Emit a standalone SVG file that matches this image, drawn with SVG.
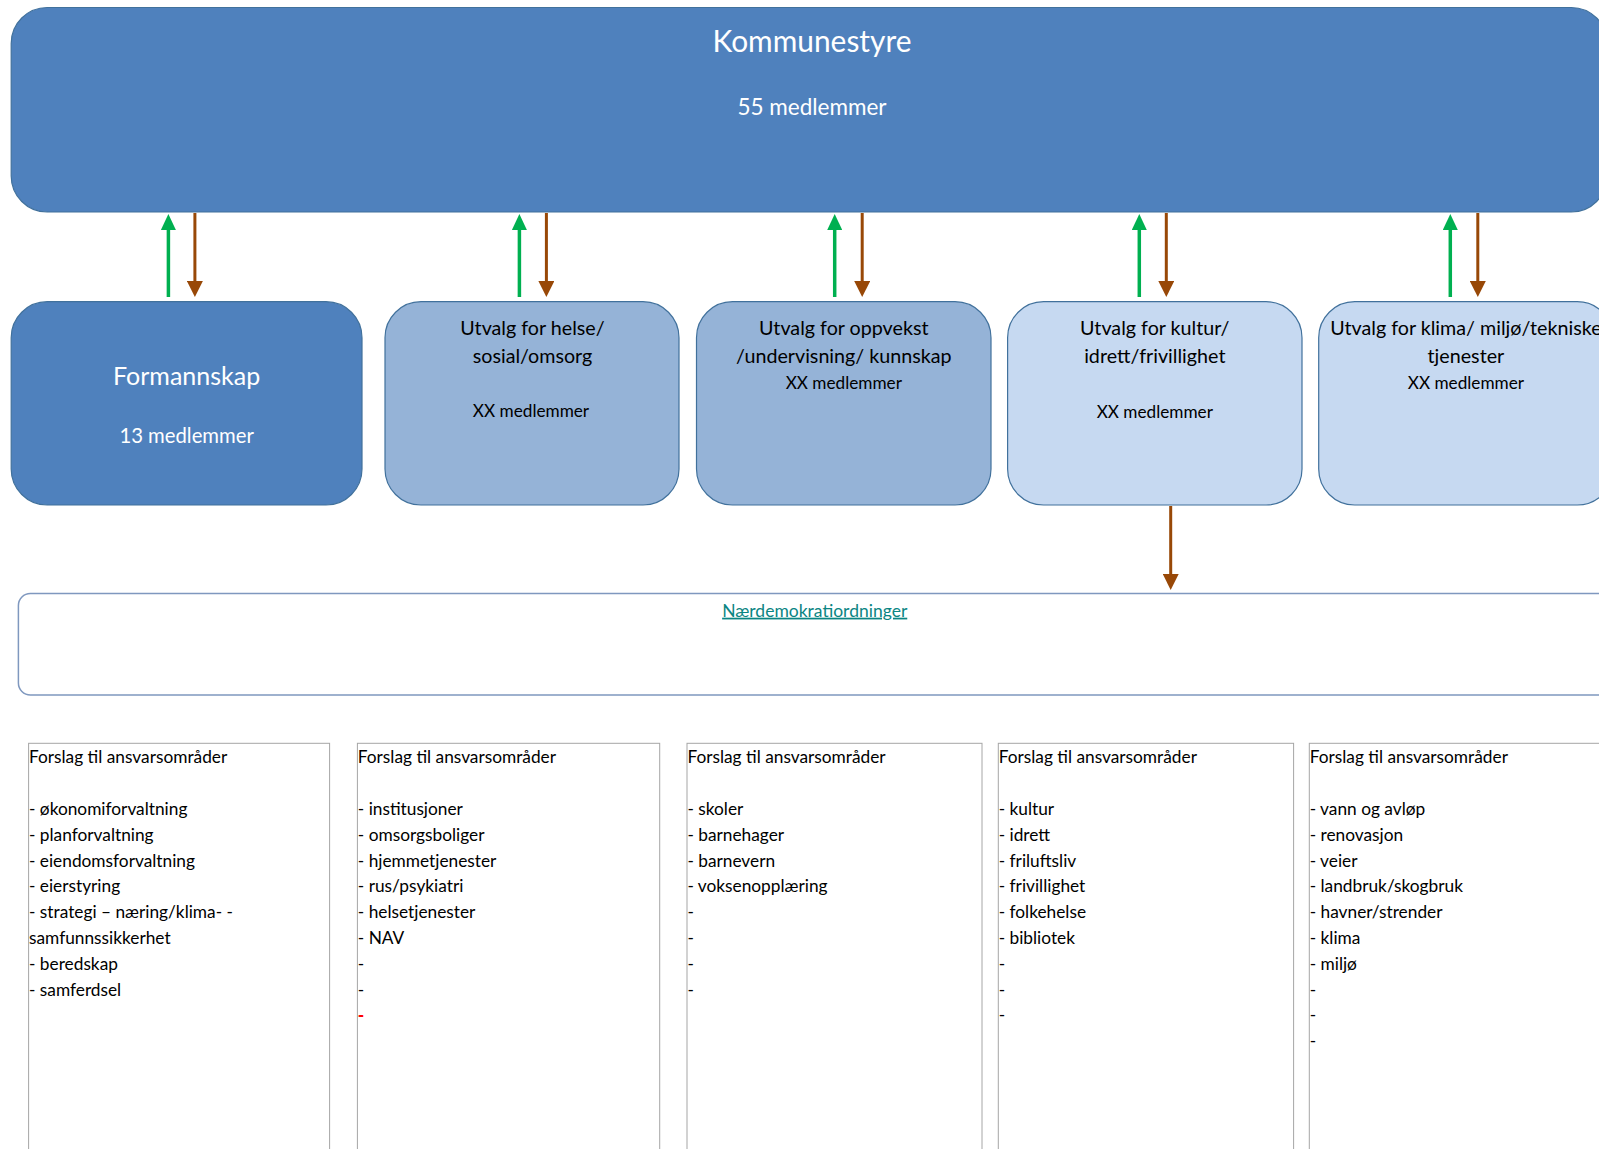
<svg xmlns="http://www.w3.org/2000/svg" width="1599" height="1149" viewBox="0 0 1599 1149">
<style>
text{font-family:Lato,"Liberation Sans",sans-serif;}
.box1{fill:#4F81BD;stroke:#41719C;stroke-width:1.2;}
.box2{fill:#95B3D7;stroke:#41719C;stroke-width:1.2;}
.box3{fill:#C6D9F1;stroke:#41719C;stroke-width:1.2;}
.wt{fill:#FFFFFF;text-anchor:middle;}
.bt{fill:#000000;text-anchor:middle;}
.t1{font-size:19.7px;}
.t2{font-size:17.2px;}
.list{fill:#000000;font-size:17.3px;}
.col{fill:none;stroke:#A6A6A6;stroke-width:1;}
.up{stroke:#00B050;stroke-width:3.5;fill:none;}
.down{stroke:#984807;stroke-width:3;fill:none;}
</style>
<defs>
<marker id="ahG" markerUnits="userSpaceOnUse" viewBox="0 0 16 15" refX="0" refY="7.5" markerWidth="16" markerHeight="15" orient="auto"><path d="M0,0 L16,7.5 L0,15 z" fill="#00B050"/></marker>
<marker id="ahB" markerUnits="userSpaceOnUse" viewBox="0 0 16 16" refX="0" refY="8" markerWidth="16" markerHeight="16" orient="auto"><path d="M0,0 L16,8 L0,16 z" fill="#984807"/></marker>
</defs>

<g id="kommunestyre">
<rect class="box1" x="11.2" y="7.5" width="1596" height="204.5" rx="36" ry="36"/>
<text class="wt" x="812" y="51.7" font-size="29.9">Kommunestyre</text>
<text class="wt" x="812" y="115" font-size="22.5">55 medlemmer</text>
</g>

<g id="formannskap">
<rect class="box1" x="11.2" y="301.7" width="350.8" height="203.3" rx="36" ry="36"/>
<text class="wt" x="186.6" y="385" font-size="25">Formannskap</text>
<text class="wt" x="186.6" y="443.3" font-size="20.3">13 medlemmer</text>
</g>

<g id="utvalg-helse">
<rect class="box2" x="385" y="301.7" width="294" height="203.3" rx="36" ry="36"/>
<text class="bt t1" x="532.5" y="335">Utvalg for helse/</text>
<text class="bt t1" x="532.5" y="363">sosial/omsorg</text>
<text class="bt t2" x="531" y="417.3">XX medlemmer</text>
</g>

<g id="utvalg-oppvekst">
<rect class="box2" x="696.5" y="301.7" width="294.5" height="203.3" rx="36" ry="36"/>
<text class="bt t1" x="843.8" y="335">Utvalg for oppvekst</text>
<text class="bt t1" x="843.8" y="363">/undervisning/ kunnskap</text>
<text class="bt t2" x="843.8" y="389.3">XX medlemmer</text>
</g>

<g id="utvalg-kultur">
<rect class="box3" x="1007.6" y="301.7" width="294.4" height="203.3" rx="36" ry="36"/>
<text class="bt t1" x="1154.8" y="335">Utvalg for kultur/</text>
<text class="bt t1" x="1154.8" y="363">idrett/frivillighet</text>
<text class="bt t2" x="1154.8" y="418">XX medlemmer</text>
</g>

<g id="utvalg-klima">
<rect class="box3" x="1318.7" y="301.7" width="294.5" height="203.3" rx="36" ry="36"/>
<text class="bt t1" x="1465.9" y="335">Utvalg for klima/ miljø/tekniske</text>
<text class="bt t1" x="1465.9" y="363">tjenester</text>
<text class="bt t2" x="1465.9" y="389.3">XX medlemmer</text>
</g>

<g id="naerdemokrati">
<rect x="18.4" y="593.5" width="1600" height="101.5" rx="12" ry="12" fill="#FFFFFF" stroke="#7F98BF" stroke-width="1.5"/>
<text x="814.7" y="616.7" font-size="17.5" fill="#0B8583" text-anchor="middle" text-decoration="underline">Nærdemokratiordninger</text>
</g>

<g id="ansvar-formannskap">
<rect class="col" x="28.6" y="743.3" width="301" height="420"/>
<text class="list" x="29" y="763">Forslag til ansvarsområder</text>
<text class="list" x="29" y="815">- økonomiforvaltning</text>
<text class="list" x="29" y="840.8">- planforvaltning</text>
<text class="list" x="29" y="866.6">- eiendomsforvaltning</text>
<text class="list" x="29" y="892.4">- eierstyring</text>
<text class="list" x="29" y="918.2">- strategi – næring/klima- -</text>
<text class="list" x="29" y="944">samfunnssikkerhet</text>
<text class="list" x="29" y="969.8">- beredskap</text>
<text class="list" x="29" y="995.6">- samferdsel</text>
</g>

<g id="ansvar-helse">
<rect class="col" x="357.4" y="743.3" width="302.3" height="420"/>
<text class="list" x="357.8" y="763">Forslag til ansvarsområder</text>
<text class="list" x="357.8" y="815">- institusjoner</text>
<text class="list" x="357.8" y="840.8">- omsorgsboliger</text>
<text class="list" x="357.8" y="866.6">- hjemmetjenester</text>
<text class="list" x="357.8" y="892.4">- rus/psykiatri</text>
<text class="list" x="357.8" y="918.2">- helsetjenester</text>
<text class="list" x="357.8" y="944">- NAV</text>
<text class="list" x="357.8" y="969.8">-</text>
<text class="list" x="357.8" y="995.6">-</text>
<text class="list" x="357.8" y="1021.4" style="fill:#FF0000;font-weight:900">-</text>
</g>

<g id="ansvar-oppvekst">
<rect class="col" x="687" y="743.3" width="295" height="420"/>
<text class="list" x="687.4" y="763">Forslag til ansvarsområder</text>
<text class="list" x="687.4" y="815">- skoler</text>
<text class="list" x="687.4" y="840.8">- barnehager</text>
<text class="list" x="687.4" y="866.6">- barnevern</text>
<text class="list" x="687.4" y="892.4">- voksenopplæring</text>
<text class="list" x="687.4" y="918.2">-</text>
<text class="list" x="687.4" y="944">-</text>
<text class="list" x="687.4" y="969.8">-</text>
<text class="list" x="687.4" y="995.6">-</text>
</g>

<g id="ansvar-kultur">
<rect class="col" x="998.3" y="743.3" width="295.3" height="420"/>
<text class="list" x="998.7" y="763">Forslag til ansvarsområder</text>
<text class="list" x="998.7" y="815">- kultur</text>
<text class="list" x="998.7" y="840.8">- idrett</text>
<text class="list" x="998.7" y="866.6">- friluftsliv</text>
<text class="list" x="998.7" y="892.4">- frivillighet</text>
<text class="list" x="998.7" y="918.2">- folkehelse</text>
<text class="list" x="998.7" y="944">- bibliotek</text>
<text class="list" x="998.7" y="969.8">-</text>
<text class="list" x="998.7" y="995.6">-</text>
<text class="list" x="998.7" y="1021.4">-</text>
</g>

<g id="ansvar-klima">
<rect class="col" x="1309.3" y="743.3" width="320" height="420"/>
<text class="list" x="1309.7" y="763">Forslag til ansvarsområder</text>
<text class="list" x="1309.7" y="815">- vann og avløp</text>
<text class="list" x="1309.7" y="840.8">- renovasjon</text>
<text class="list" x="1309.7" y="866.6">- veier</text>
<text class="list" x="1309.7" y="892.4">- landbruk/skogbruk</text>
<text class="list" x="1309.7" y="918.2">- havner/strender</text>
<text class="list" x="1309.7" y="944">- klima</text>
<text class="list" x="1309.7" y="969.8">- miljø</text>
<text class="list" x="1309.7" y="995.6">-</text>
<text class="list" x="1309.7" y="1021.4">-</text>
<text class="list" x="1309.7" y="1047.2">-</text>
</g>

<g id="connectors">
<line class="up" x1="168.4" y1="297" x2="168.4" y2="230" marker-end="url(#ahG)"/>
<line class="down" x1="194.9" y1="213" x2="194.9" y2="281" marker-end="url(#ahB)"/>
<line class="up" x1="519.4" y1="297" x2="519.4" y2="230" marker-end="url(#ahG)"/>
<line class="down" x1="546.4" y1="213" x2="546.4" y2="281" marker-end="url(#ahB)"/>
<line class="up" x1="834.7" y1="297" x2="834.7" y2="230" marker-end="url(#ahG)"/>
<line class="down" x1="862.2" y1="213" x2="862.2" y2="281" marker-end="url(#ahB)"/>
<line class="up" x1="1139.3" y1="297" x2="1139.3" y2="230" marker-end="url(#ahG)"/>
<line class="down" x1="1166.3" y1="213" x2="1166.3" y2="281" marker-end="url(#ahB)"/>
<line class="up" x1="1450.3" y1="297" x2="1450.3" y2="230" marker-end="url(#ahG)"/>
<line class="down" x1="1477.8" y1="213" x2="1477.8" y2="281" marker-end="url(#ahB)"/>
<line class="down" x1="1170.7" y1="506" x2="1170.7" y2="574" marker-end="url(#ahB)"/>
</g>
</svg>
